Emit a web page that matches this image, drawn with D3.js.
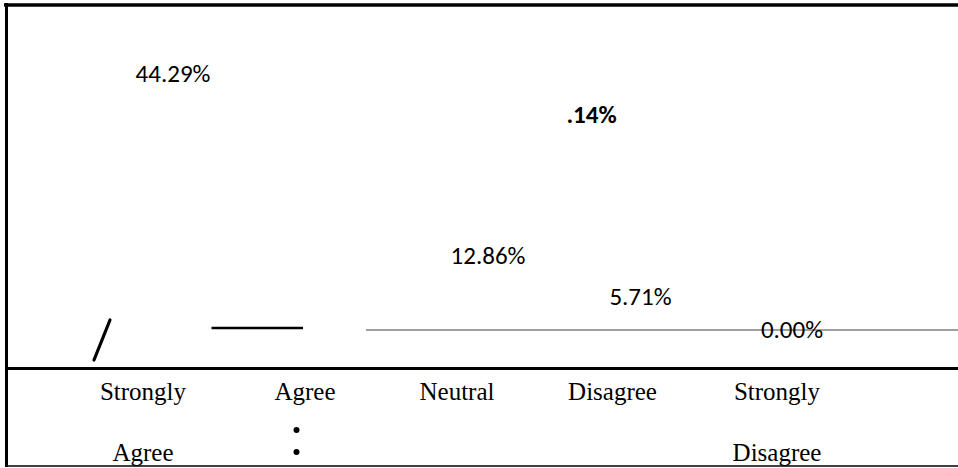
<!DOCTYPE html>
<html>
<head>
<meta charset="utf-8">
<script src="https://cdn.jsdelivr.net/npm/d3@7"></script>
<style>
  html, body { margin: 0; padding: 0; background: #fff; }
  svg { display: block; }
</style>
</head>
<body>
<div id="chart"></div>
<script>
// ---- data ----
const categories = ["Strongly Agree", "Agree", "Neutral", "Disagree", "Strongly Disagree"];
const categoryLines = [["Strongly", "Agree"], ["Agree", ""], ["Neutral", ""], ["Disagree", ""], ["Strongly", "Disagree"]];
const values = [44.29, 37.14, 12.86, 5.71, 0.00];
const valueLabels = ["44.29%", ".14%", "12.86%", "5.71%", "0.00%"];
const boldLabel = [false, true, false, false, false];

// ---- layout (not data) ----
const W = 958, H = 468;
const labelDx = [30, 290, 28, 22, 15];
const catDx = [0, 3.5, -3, -6, 0];

const svg = d3.select("#chart").append("svg")
  .attr("width", W).attr("height", H);

const x = d3.scalePoint().domain(categories).range([143, 777]);
const y = d3.scaleLinear().domain([0, 50]).range([338, 49]);

// frame
svg.append("line").attr("x1", 4).attr("x2", W).attr("y1", 5).attr("y2", 5)
  .attr("stroke", "#000").attr("stroke-width", 3.5);
svg.append("line").attr("x1", 6.5).attr("x2", 6.5).attr("y1", 3).attr("y2", 467)
  .attr("stroke", "#000").attr("stroke-width", 3);
svg.append("line").attr("x1", 5).attr("x2", W).attr("y1", 466).attr("y2", 466)
  .attr("stroke", "#000").attr("stroke-width", 1.6);

// baseline artefacts drawn from scales
const base = y(0);
svg.append("line")
  .attr("x1", x("Neutral") - 94).attr("x2", W)
  .attr("y1", base - 8).attr("y2", base - 8)
  .attr("stroke", "#808080").attr("stroke-width", 1.6);
svg.append("line")
  .attr("x1", x("Agree") - 90).attr("x2", x("Agree") + 1.5)
  .attr("y1", base - 10).attr("y2", base - 10)
  .attr("stroke", "#000").attr("stroke-width", 2.6);
svg.append("line")
  .attr("x1", x("Strongly Agree") - 33).attr("x2", x("Strongly Agree") - 49)
  .attr("y1", base - 18).attr("y2", base + 22)
  .attr("stroke", "#000").attr("stroke-width", 3.2).attr("stroke-linecap", "round");

// x axis line
svg.append("line").attr("x1", 5).attr("x2", W).attr("y1", 368.5).attr("y2", 368.5)
  .attr("stroke", "#000").attr("stroke-width", 3.2);

// value labels
svg.selectAll("text.val").data(values).join("text")
  .attr("class", "val")
  .attr("x", (d, i) => x(categories[i]) + labelDx[i])
  .attr("y", d => y(d))
  .attr("text-anchor", "middle")
  .attr("font-family", "Carlito, Calibri, Lato, sans-serif")
  .attr("font-size", 25)
  .attr("font-weight", (d, i) => boldLabel[i] ? "bold" : "normal")
  .attr("fill", "#000")
  .text((d, i) => valueLabels[i]);

// category labels
const cat = svg.selectAll("g.cat").data(categories).join("g")
  .attr("class", "cat")
  .attr("transform", (d, i) => `translate(${x(d) + catDx[i]},0)`);
cat.append("text")
  .attr("y", 400).attr("text-anchor", "middle")
  .attr("font-family", "'Liberation Serif', 'Times New Roman', serif")
  .attr("font-size", 25).attr("fill", "#000")
  .text((d, i) => categoryLines[i][0]);
cat.append("text")
  .attr("y", 461).attr("text-anchor", "middle")
  .attr("font-family", "'Liberation Serif', 'Times New Roman', serif")
  .attr("font-size", 25).attr("fill", "#000")
  .text((d, i) => categoryLines[i][1]);

// dots under "Agree"
svg.selectAll("circle.dot").data([430, 452]).join("circle")
  .attr("class", "dot")
  .attr("cx", x("Agree") - 5).attr("cy", d => d).attr("r", 3)
  .attr("fill", "#000");
</script>
</body>
</html>
